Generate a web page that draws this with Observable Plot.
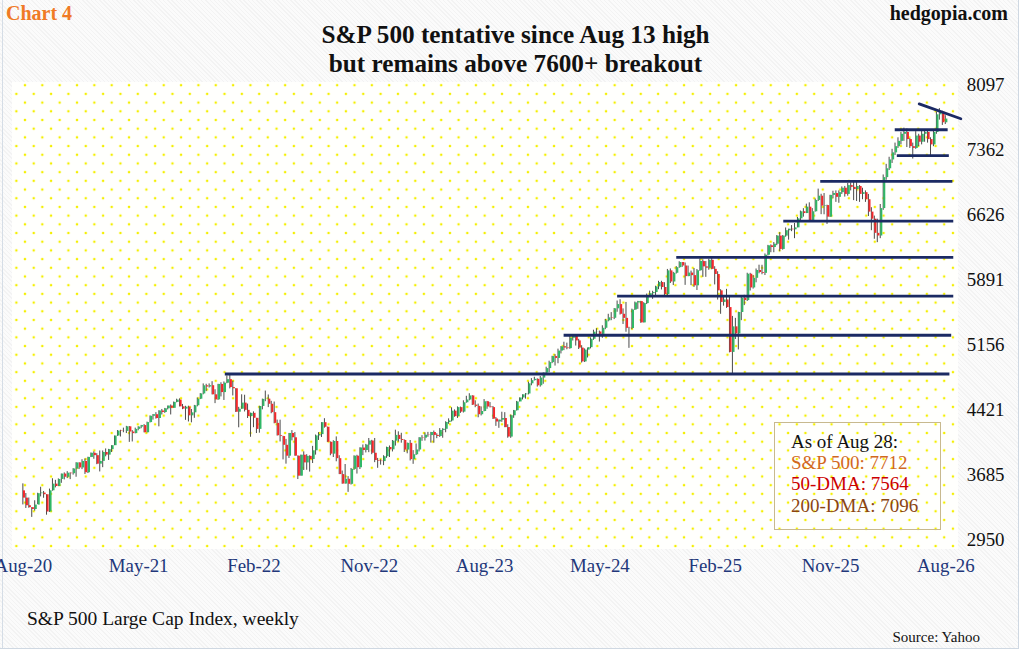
<!DOCTYPE html>
<html>
<head>
<meta charset="utf-8">
<script src="https://cdn.jsdelivr.net/npm/d3@7"></script>
<script src="https://cdn.jsdelivr.net/npm/@observablehq/plot@0.6"></script>
<style>
html, body { margin: 0; padding: 0; background: #fff; }
#wrap {
  position: relative; width: 1018px; height: 648px; overflow: hidden;
  border-right: 1px solid #cfd8e2; border-bottom: 1px solid #cfd8e2;
  background: repeating-linear-gradient(45deg, #f3f3f3 0px, #f3f3f3 1px, #fbfbfb 1px, #fbfbfb 3px);
  font-family: "Liberation Serif", "Times New Roman", serif;
}
#leftline { position: absolute; left: 2px; top: 0; width: 1px; height: 648px; background: #d5dde6; }
#plotbg {
  position: absolute; left: 12px; top: 82px; width: 946px; height: 467px;
  background-color: #fffffd;
  background-image:
    radial-gradient(circle, #f4ef00 1.15px, rgba(255,255,0,0) 1.6px),
    radial-gradient(circle, #f4ef00 1.15px, rgba(255,255,0,0) 1.6px);
  background-size: 17.35px 17.4px, 17.35px 17.4px;
  background-position: 4.3px -5.5px, -4.3px 3.2px;
}
#chart { position: absolute; left: 0; top: 0; }
.t { position: absolute; white-space: nowrap; }
#title { left: 0; top: 20px; width: 1031px; text-align: center; font-size: 26px; line-height: 29px; font-weight: bold; color: #111; transform: scaleX(0.97); transform-origin: 515.5px 50%; }
#legend {
  position: absolute; left: 774px; top: 422px; width: 167px; height: 108px;
  border: 1px solid #c8b98e; box-sizing: border-box;
}
#legend div { position: absolute; left: 16px; font-size: 19px; line-height: 22px; white-space: nowrap; }
</style>
</head>
<body>
<div id="wrap">
  <div id="leftline"></div>
  <div id="plotbg"></div>
  <div id="chart"></div>
  <div class="t" style="left:6px; top:0px; font-size:20px; line-height:26px; font-weight:bold; color:#f07a26;">Chart 4</div>
  <div class="t" style="right:10px; top:0px; font-size:20px; line-height:26px; font-weight:bold; color:#111;">hedgopia.com</div>
  <div class="t" id="title">S&amp;P 500 tentative since Aug 13 high<br>but remains above 7600+ breakout</div>
  <div class="t" style="left:27px; top:607px; font-size:19.5px; line-height:24px; color:#111;">S&amp;P 500 Large Cap Index, weekly</div>
  <div class="t" style="right:38px; top:627px; font-size:15px; line-height:20px; color:#111;">Source: Yahoo</div>
  <div id="legend">
    <div style="top:8px; color:#111;">As of Aug 28:</div>
    <div style="top:29px; color:#d2691e;">S&amp;P 500: 7712</div>
    <div style="top:50px; color:#cc0000;">50-DMA: 7564</div>
    <div style="top:72px; color:#8b4513;">200-DMA: 7096</div>
  </div>
</div>
<script>
// Weekly S&P 500 (weeks starting Aug 31, 2020 ... Aug 24, 2026)
const firstOpen = 3509;
const closes = [
3427,3341,3319,3298,3348,3477,3484,3465,3270,3510,
3585,3558,3638,3699,3663,3709,3703,3756,3825,3768,
3841,3714,3887,3934,3907,3811,3842,3943,3913,3975,
4020,4129,4185,4180,4181,4233,4174,4156,4204,4230,
4247,4166,4281,4352,4370,4327,4412,4395,4437,4468,
4442,4509,4535,4459,4433,4455,4357,4391,4471,4545,
4605,4697,4683,4698,4595,4538,4712,4620,4726,4766,
4677,4663,4398,4432,4501,4419,4349,4385,4329,4204,
4463,4543,4546,4488,4393,4272,4132,4123,4024,3901,
4158,4109,3901,3675,3912,3825,3899,3863,3962,4130,
4145,4280,4228,4058,3924,4067,3873,3693,3586,3640,
3583,3752,3901,3771,3993,3965,4026,4072,3934,3852,
3845,3840,3895,3999,3973,4071,4136,4090,4079,3970,
4046,3862,3917,3971,4109,4105,4138,4134,4169,4136,
4124,4192,4205,4282,4299,4410,4348,4450,4399,4505,
4536,4582,4478,4464,4370,4406,4516,4457,4450,4320,
4288,4308,4327,4224,4117,4358,4415,4514,4559,4595,
4604,4719,4755,4770,4697,4784,4840,4891,4959,5027,
5006,5089,5137,5124,5117,5234,5254,5204,5123,4967,
5100,5128,5223,5303,5305,5278,5347,5431,5465,5460,
5567,5615,5505,5459,5346,5344,5554,5634,5648,5408,
5626,5703,5738,5751,5815,5864,5808,5729,5996,5870,
5969,6032,6090,6051,5931,5971,5942,5827,5997,6101,
6041,6026,6115,6013,5955,5770,5639,5667,5581,5074,
5363,5283,5525,5687,5660,5958,5803,5912,6000,5977,
5968,6173,6279,6260,6297,6389,6238,6389,6450,6467,
6460,6482,6584,6664,6644,6716,6553,6664,6792,6840,
6728,6734,6603,6849,6870,6827,6880,6930,6860,6960,
6940,6915,6950,6860,6880,6800,6660,6580,6420,6390,
6700,7050,7150,7250,7330,7400,7460,7540,7560,7480,
7400,7380,7520,7450,7540,7560,7480,7420,7560,7760,
7790,7670,7712
];
const highs = [
3588,3479,3428,3320,3397,3482,3550,3502,3466,3529,
3646,3628,3644,3699,3712,3726,3712,3760,3827,3826,
3861,3870,3889,3937,3950,3929,3960,3960,3983,3978,
4020,4129,4191,4194,4218,4238,4236,4190,4218,4234,
4249,4258,4286,4356,4372,4393,4415,4429,4441,4468,
4480,4513,4545,4549,4486,4465,4466,4429,4475,4559,
4608,4718,4714,4718,4743,4652,4713,4731,4740,4808,
4818,4749,4665,4453,4595,4590,4490,4388,4402,4329,
4465,4546,4637,4593,4521,4513,4309,4308,4125,4091,
4158,4190,4168,3905,3913,3950,3918,3905,4012,4140,
4167,4280,4325,4230,4062,4076,4119,3906,3733,3807,
3670,3762,3905,3911,3996,4028,4034,4101,4080,4101,
3876,3859,3906,4003,4016,4078,4195,4176,4160,4085,
4049,4078,3964,4039,4110,4133,4164,4170,4170,4185,
4154,4213,4212,4290,4323,4448,4424,4458,4456,4527,
4578,4607,4585,4527,4490,4458,4541,4520,4507,4463,
4338,4310,4398,4393,4256,4366,4418,4520,4560,4595,
4609,4738,4778,4793,4775,4802,4842,4907,4975,5030,
5048,5111,5140,5189,5179,5261,5265,5264,5222,5150,
5114,5123,5239,5325,5342,5315,5375,5447,5505,5524,
5570,5655,5670,5566,5639,5358,5563,5643,5651,5651,
5636,5734,5767,5765,5822,5878,5878,5862,6012,6018,
5979,6044,6099,6090,6085,6050,5993,6022,6011,6129,
6120,6101,6127,6147,6043,5986,5783,5715,5787,5703,
5481,5459,5528,5700,5720,5969,5968,5944,6017,6060,
6059,6187,6284,6290,6316,6395,6427,6395,6481,6467,
6508,6532,6600,6672,6699,6750,6765,6700,6808,6920,
6862,6870,6738,6850,6896,6900,6900,6945,6950,6985,
6990,7000,6995,6960,6930,6900,6860,6710,6615,6580,
6746,7080,7200,7280,7370,7440,7500,7560,7609,7600,
7490,7440,7570,7540,7580,7590,7580,7500,7580,7790,
7830,7800,7750
];
const lows = [
3350,3310,3313,3209,3280,3354,3441,3425,3234,3265,
3505,3543,3557,3594,3633,3648,3636,3687,3663,3750,
3749,3694,3705,3885,3866,3805,3723,3771,3894,3853,
3943,4020,4125,4118,4166,4157,4057,4062,4154,4188,
4212,4165,4164,4277,4309,4320,4233,4367,4385,4424,
4367,4442,4505,4458,4427,4306,4288,4278,4329,4459,
4541,4595,4631,4672,4594,4495,4532,4571,4531,4720,
4662,4582,4395,4222,4430,4401,4327,4115,4223,4157,
4161,4425,4517,4450,4381,4267,4129,4062,3859,3811,
3875,4074,3900,3637,3675,3739,3742,3721,3818,3913,
4079,4112,4218,4057,3906,3886,3838,3693,3584,3585,
3492,3575,3740,3699,3750,3907,3938,3941,3918,3828,
3764,3800,3794,3877,3886,3949,4015,4060,4048,3943,
3928,3847,3809,3909,3949,4069,4072,4115,4049,4048,
4099,4113,4104,4166,4261,4288,4341,4328,4385,4389,
4500,4527,4474,4449,4335,4356,4403,4431,4447,4316,
4238,4216,4284,4223,4104,4103,4329,4411,4514,4537,
4546,4594,4697,4751,4682,4682,4714,4835,4845,4947,
4920,4946,5057,5094,5104,5110,5203,5146,5107,4954,
4960,5011,5114,5211,5257,5191,5234,5331,5420,5433,
5445,5528,5497,5390,5302,5120,5330,5548,5561,5403,
5406,5615,5695,5674,5696,5783,5780,5703,5707,5853,
5830,5960,6025,6035,5832,5930,5829,5809,5774,5990,
5923,5923,6003,6008,5837,5666,5505,5597,5572,5069,
4835,5220,5102,5433,5603,5650,5768,5790,5861,5963,
5952,5943,6164,6201,6201,6281,6212,6230,6376,6343,
6439,6360,6482,6565,6603,6643,6550,6550,6660,6780,
6631,6630,6521,6600,6810,6770,6760,6860,6830,6840,
6900,6790,6780,6770,6800,6770,6610,6450,6353,6315,
6360,6680,7020,7130,7210,7300,7380,7420,7460,7390,
7380,7260,7370,7400,7420,7450,7440,7300,7400,7540,
7700,7640,7650
];

// x-axis tick labels (week index -> label)
const tickWeeks = [0, 39, 78, 117, 156, 195, 234, 273, 312];
const tickLabels = ["Aug-20", "May-21", "Feb-22", "Nov-22", "Aug-23", "May-24", "Feb-25", "Nov-25", "Aug-26"];
// y-axis ticks
const yTicks = [2950, 3685, 4421, 5156, 5891, 6626, 7362, 8097];

// horizontal support / resistance lines (value, from week, to week)
const levelValues = [4830, 5268, 5711, 6149, 6557, 7007, 7299, 7591];
const levelFrom   = [68.3, 182.9, 201, 221, 257.2, 269.7, 295.6, 294.9];
const levelTo     = [313.4, 314, 314.7, 314.7, 314.7, 314.4, 313.2, 312.8];
// falling trendline from the Aug 13 high
const trendWeeks  = [303, 317.1];
const trendValues = [7883, 7715];

const data = closes.map((c, i) => ({
  i, o: i === 0 ? firstOpen : closes[i - 1], h: highs[i], l: lows[i], c
}));
const levels = levelValues.map((v, k) => ({v, x1: levelFrom[k], x2: levelTo[k]}));
const trend = trendWeeks.map((w, k) => ({w, v: trendValues[k]}));

const NAVY = "#1b2a63";
const chart = Plot.plot({
  width: 1024,
  height: 652,
  marginLeft: 12,
  marginRight: 66,
  marginTop: 85,
  marginBottom: 109,
  x: {domain: [-3.7, 314.4]},
  y: {domain: [2950, 8097]},
  style: {background: "transparent", fontFamily: "'Liberation Serif', 'Times New Roman', serif", fontSize: "19px", overflow: "visible"},
  marks: [
    Plot.ruleX(data, {x: "i", y1: "l", y2: "h", stroke: "#4a4a4a", strokeWidth: 1, dx: -0.5}),
    Plot.ruleX(data, {x: "i", y1: "o", y2: "c", stroke: d => (d.c >= d.o ? "#2fb866" : "#f5272a"), strokeWidth: 2, dx: 0.6}),
    Plot.ruleY(levels, {y: "v", x1: "x1", x2: "x2", stroke: NAVY, strokeWidth: 2.8}),
    Plot.line(trend, {x: "w", y: "v", stroke: NAVY, strokeWidth: 2.8}),
    Plot.axisX({ticks: tickWeeks, tickFormat: d => tickLabels[tickWeeks.indexOf(d)], tickSize: 0, tickPadding: 18, fontSize: 19, color: "#22377a", label: null}),
    Plot.axisY({anchor: "right", ticks: yTicks, tickFormat: d => String(d), tickSize: 0, tickPadding: 14, fontSize: 19, color: "#111", label: null})
  ]
});
document.getElementById("chart").appendChild(chart);
</script>
</body>
</html>
